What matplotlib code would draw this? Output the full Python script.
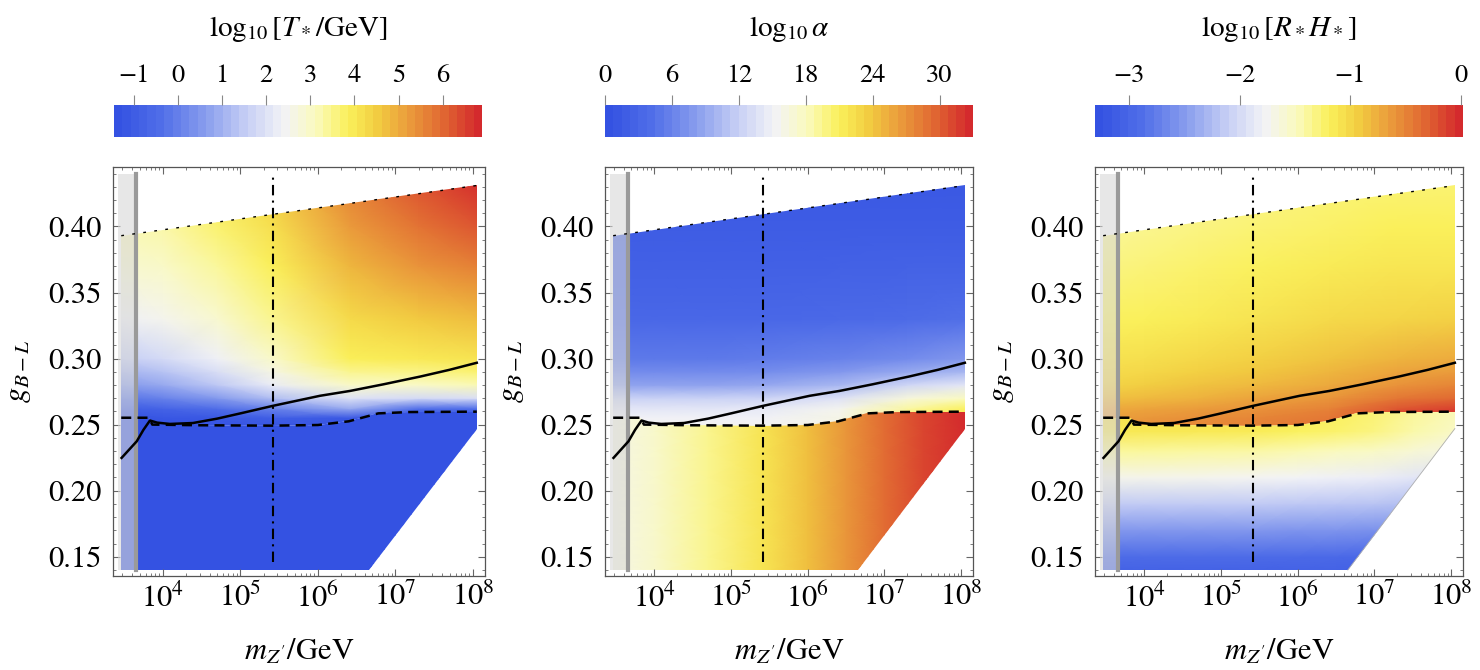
import numpy as np
import matplotlib
matplotlib.use("Agg")
import matplotlib.pyplot as plt
from matplotlib.colors import LinearSegmentedColormap, Normalize
from matplotlib.cm import ScalarMappable
from matplotlib.patches import Polygon
from matplotlib.ticker import LogLocator, MultipleLocator, FixedLocator, NullFormatter

plt.rcParams["font.family"] = "STIXGeneral"
plt.rcParams["mathtext.fontset"] = "stix"

# ---- region boundaries (m_Z' in GeV, g_B-L) ----
top_x = [2.9e3, 1.12e8]
top_y = [0.393, 0.431]
dashed_x = [2.9e3, 6.6e3, 7.3e3, 3e4, 2.6e5, 1e6, 2.5e6, 6e6, 1.5e7, 1.12e8]
dashed_y = [0.2552, 0.2552, 0.2500, 0.2495, 0.2492, 0.2497, 0.2525, 0.2585, 0.2595, 0.2598]
cut_x = [4.5e6, 1.12e8]
cut_y = [0.140, 0.247]
region_bottom = 0.140

solid_x = [2.93e3, 4.6e3, 5.6e3, 6.8e3, 8.4e3, 1.23e4, 2.44e4, 5.0e4, 1.0e5, 2.62e5,
           1.06e6, 2.6e6, 7.0e6, 2.1e7, 5.0e7, 1.12e8]
solid_y = [0.2248, 0.2374, 0.2460, 0.2531, 0.2515, 0.2505, 0.2512, 0.2545, 0.2585, 0.2642,
           0.2718, 0.2755, 0.2805, 0.2864, 0.2915, 0.2968]

vline_x = 2.62e5
vline_y = [0.146, 0.439]
band_x = [2.6e3, 4.5e3]
band_y = [0.140, 0.440]

# ---- colour fields: grid nodes ----
up_x = [2.8e3, 1e4, 5e4, 2.6e5, 2.6e6, 2.0e7, 1.15e8]
up_y = [0.245, 0.255, 0.262, 0.27, 0.28, 0.29, 0.30, 0.33, 0.37, 0.40, 0.436]

T_up = [
    [-1.45, -1.45, -1.45, -1.45, -1.45, -1.45, -1.45],
    [-1.40, -1.30, -1.20, -1.00, -1.20, -1.45, -1.45],
    [-1.00, -0.80, -0.50, 0.00, 0.80, -0.50, -0.50],
    [-0.30, 0.00, 0.50, 1.20, 2.00, 1.80, 1.90],
    [0.50, 0.80, 1.40, 2.20, 3.00, 3.00, 3.20],
    [1.00, 1.30, 1.90, 2.65, 3.50, 3.55, 3.70],
    [1.50, 1.80, 2.30, 3.00, 3.90, 4.00, 4.10],
    [2.30, 2.50, 2.90, 3.50, 4.30, 4.60, 4.80],
    [2.90, 3.00, 3.40, 3.90, 4.90, 5.40, 5.70],
    [3.20, 3.30, 3.70, 4.20, 5.30, 5.90, 6.30],
    [3.40, 3.60, 4.00, 4.50, 5.70, 6.40, 6.90],
]
A_up = [
    [15.5, 15.5, 15.5, 15.5, 16.0, 21.0, 21.5],
    [15.0, 15.0, 15.0, 15.0, 16.0, 20.5, 21.5],
    [14.0, 14.0, 14.0, 14.2, 15.5, 19.0, 21.0],
    [12.0, 12.0, 12.0, 12.3, 13.5, 16.5, 18.0],
    [8.5, 8.5, 8.5, 8.8, 10.0, 12.5, 14.0],
    [6.5, 6.5, 6.5, 6.7, 7.5, 9.0, 10.0],
    [5.0, 5.0, 5.0, 5.2, 5.8, 6.5, 7.5],
    [3.0, 3.0, 3.0, 3.0, 3.3, 3.6, 4.0],
    [2.0, 2.0, 2.0, 2.0, 2.1, 2.2, 2.2],
    [1.5, 1.5, 1.5, 1.5, 1.5, 1.5, 1.5],
    [1.0, 1.0, 1.0, 1.0, 1.0, 1.0, 1.0],
]
R_up = [
    [-0.60, -0.55, -0.50, -0.45, -0.35, -0.10, 0.00],
    [-0.65, -0.60, -0.55, -0.50, -0.40, -0.10, 0.00],
    [-0.72, -0.67, -0.62, -0.57, -0.47, -0.22, -0.10],
    [-0.85, -0.80, -0.75, -0.68, -0.58, -0.40, -0.32],
    [-0.97, -0.92, -0.86, -0.80, -0.70, -0.57, -0.50],
    [-1.03, -1.00, -0.94, -0.88, -0.78, -0.67, -0.62],
    [-1.08, -1.05, -1.00, -0.95, -0.86, -0.77, -0.72],
    [-1.20, -1.18, -1.14, -1.09, -1.02, -0.97, -0.95],
    [-1.30, -1.28, -1.24, -1.20, -1.15, -1.10, -1.10],
    [-1.36, -1.34, -1.30, -1.26, -1.22, -1.18, -1.18],
    [-1.42, -1.40, -1.36, -1.32, -1.28, -1.26, -1.26],
]

lo_x = [2.8e3, 1e4, 5e4, 2.6e5, 1e6, 3.2e6, 1e7, 3.2e7, 1.15e8]
lo_y = [0.138, 0.15, 0.17, 0.19, 0.21, 0.23, 0.245, 0.262]
T_lo = [[-1.45] * 9 for _ in lo_y]
A_lo = [[16.0, 17.5, 19.5, 22.0, 24.5, 27.0, 29.5, 31.5, 33.0] for _ in lo_y]
R_lo = [
    [-3.10, -3.10, -3.10, -3.10, -3.10, -3.10, -3.10, -3.10, -3.10],
    [-2.95, -2.95, -2.95, -2.95, -2.97, -2.98, -3.00, -3.00, -3.00],
    [-2.55, -2.55, -2.55, -2.55, -2.57, -2.58, -2.60, -2.62, -2.65],
    [-2.15, -2.15, -2.15, -2.15, -2.17, -2.18, -2.20, -2.25, -2.30],
    [-1.72, -1.72, -1.73, -1.75, -1.78, -1.81, -1.84, -1.90, -1.95],
    [-1.38, -1.38, -1.39, -1.40, -1.44, -1.48, -1.52, -1.60, -1.68],
    [-1.12, -1.12, -1.13, -1.15, -1.19, -1.24, -1.30, -1.42, -1.52],
    [-1.05, -1.05, -1.05, -1.07, -1.12, -1.18, -1.25, -1.36, -1.46],
]

cb_ranges = [(-1.45, 6.89), (0.0, 33.0), (-3.31, 0.02)]
cb_ticks = [[-1, 0, 1, 2, 3, 4, 5, 6], [0, 6, 12, 18, 24, 30], [-3, -2, -1, 0]]
cb_titles = [r"$\log_{10}[T_*/\mathrm{GeV}]$", r"$\log_{10}\alpha$",
             r"$\log_{10}[R_* H_*]$"]
fields = [(T_up, T_lo), (A_up, A_lo), (R_up, R_lo)]

cmap = LinearSegmentedColormap.from_list("temp", [
    (0.00, (52/255, 82/255, 226/255)),
    (0.12, (80/255, 110/255, 232/255)),
    (0.25, (140/255, 160/255, 238/255)),
    (0.36, (200/255, 208/255, 245/255)),
    (0.46, (243/255, 243/255, 246/255)),
    (0.55, (250/255, 250/255, 190/255)),
    (0.64, (250/255, 240/255, 90/255)),
    (0.72, (242/255, 205/255, 65/255)),
    (0.80, (235/255, 160/255, 60/255)),
    (0.90, (225/255, 105/255, 50/255)),
    (1.00, (212/255, 42/255, 45/255)),
])

W, H = 1480, 670
ax_px = [(113, 485), (605, 973), (1095, 1463)]
cb_px = [(114, 482), (605, 973), (1095, 1463)]


def field(ax, gx, gy, vals, norm, clip_xy):
    X, Y = np.meshgrid(gx, gy)
    m = ax.pcolormesh(X, Y, np.array(vals), cmap=cmap, norm=norm,
                      shading="gouraud", zorder=1, rasterized=True)
    m.set_clip_path(Polygon(clip_xy, closed=True, transform=ax.transData))


fig = plt.figure(figsize=(W / 100, H / 100), dpi=100)
upper_poly = list(zip(dashed_x, dashed_y)) + [(top_x[1], top_y[1]), (top_x[0], top_y[0])]
lower_poly = ([(dashed_x[0], region_bottom), (cut_x[0], cut_y[0]), (cut_x[1], cut_y[1])]
              + list(zip(dashed_x, dashed_y))[::-1])

for i in range(3):
    l, r = ax_px[i]
    ax = fig.add_axes([l / W, 1 - 576 / H, (r - l) / W, (576 - 167) / H])
    ax.set_xscale("log")
    ax.set_xlim(2.27e3, 1.43e8)
    ax.set_ylim(0.1354, 0.445)
    norm = Normalize(*cb_ranges[i])
    up, lo = fields[i]
    field(ax, up_x, up_y, up, norm, upper_poly)
    field(ax, lo_x, lo_y, lo, norm, lower_poly)

    ax.fill_betweenx(band_y, band_x[0], band_x[1], color="#d8d8d8", alpha=0.6,
                     lw=0, zorder=2)
    ax.plot([band_x[1], band_x[1]], band_y, color="#9a9a9a", lw=3, zorder=3)
    if i == 2:
        ax.plot(cut_x, cut_y, color="#b0b0b0", lw=0.6, zorder=3)
    ax.plot(solid_x, solid_y, color="k", lw=1.8, zorder=5)
    ax.plot(dashed_x, dashed_y, color="k", lw=1.8, ls=(0, (4, 2.5)), zorder=5)
    ax.plot(top_x, top_y, color="k", lw=1.0, ls=(0, (2, 6)), zorder=5)
    ax.plot([vline_x, vline_x], vline_y, color="k", lw=1.5,
            ls=(0, (5, 2.5, 1, 2.5)), zorder=5)

    ax.yaxis.set_major_locator(FixedLocator([0.15, 0.20, 0.25, 0.30, 0.35, 0.40]))
    ax.yaxis.set_major_formatter(lambda v, p: f"{v:.2f}")
    ax.yaxis.set_minor_locator(MultipleLocator(0.01))
    ax.xaxis.set_major_locator(LogLocator(base=10, numticks=20))
    ax.xaxis.set_minor_locator(LogLocator(base=10, subs=np.arange(2, 10), numticks=20))
    ax.xaxis.set_minor_formatter(NullFormatter())
    ax.tick_params(which="both", direction="in", top=True, right=True,
                   color="#666666", labelsize=22)
    ax.tick_params(which="major", length=5, width=0.8)
    ax.tick_params(which="minor", length=2.5, width=0.6)
    ax.tick_params(axis="x", pad=5)
    ax.tick_params(axis="y", pad=8)
    for s in ax.spines.values():
        s.set_color("#555555")
        s.set_linewidth(0.9)
    ax.set_ylabel(r"$g_{B-L}$", fontsize=22)
    ax.yaxis.set_label_coords(-0.215, 0.5)
    ax.set_xlabel(r"$m_{Z'}/\mathrm{GeV}$", fontsize=22)
    ax.xaxis.set_label_coords(0.5, -0.15)

    cl, cr = cb_px[i]
    cax = fig.add_axes([cl / W, 1 - 137 / H, (cr - cl) / W, 32 / H])
    sm = ScalarMappable(norm=norm, cmap=cmap.resampled(44))
    cb = fig.colorbar(sm, cax=cax, orientation="horizontal")
    cb.outline.set_visible(False)
    cb.set_ticks(cb_ticks[i])
    cb.set_ticklabels([str(t).replace("-", "\u2212") for t in cb_ticks[i]])
    cax.xaxis.set_ticks_position("top")
    cax.tick_params(which="major", direction="out", length=7, width=0.8,
                    color="#888888", labelsize=19, pad=5)
    cax.tick_params(which="minor", length=0)
    fig.text((cl + cr) / 2 / W, 1 - 36 / H, cb_titles[i], ha="center",
             va="baseline", fontsize=21)

fig.savefig("out.png", dpi=100)
